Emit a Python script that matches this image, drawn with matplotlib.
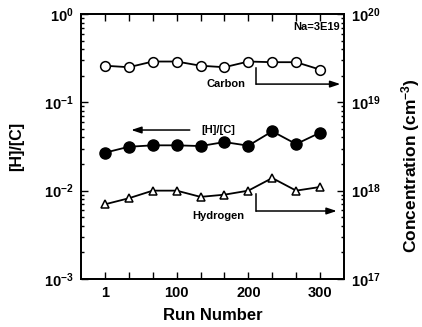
import matplotlib
matplotlib.use("Agg")
import matplotlib.pyplot as plt
import numpy as np
from matplotlib.ticker import LogLocator, NullFormatter, FixedLocator

plt.rcParams['font.family'] = ['Liberation Sans', 'DejaVu Sans']
plt.rcParams['font.weight'] = 'bold'
plt.rcParams['mathtext.fontset'] = 'custom'
plt.rcParams['mathtext.rm'] = 'Liberation Sans:bold'
plt.rcParams['mathtext.bf'] = 'Liberation Sans:bold'
plt.rcParams['mathtext.default'] = 'bf'

run_idx = np.arange(10)
x_tick_labels = ["1", "100", "200", "300"]
x_tick_pos = [0, 3, 6, 9]
ratio_HC = [0.0269, 0.0314, 0.0326, 0.0326, 0.0320, 0.0355, 0.0323, 0.0470, 0.0337, 0.0453]
carbon = [2.6e19, 2.5e19, 2.9e19, 2.9e19, 2.6e19, 2.5e19, 2.9e19, 2.85e19, 2.85e19, 2.35e19]
hydrogen = [7.0e17, 8.2e17, 1.0e18, 1.0e18, 8.5e17, 9.0e17, 1.0e18, 1.39e18, 1.0e18, 1.1e18]

fig = plt.figure(figsize=(4.22, 3.27), dpi=100)
ax = fig.add_axes([0.192, 0.147, 0.623, 0.81])
ax2 = ax.twinx()

ax.set_yscale('log')
ax.set_ylim(1e-3, 1)
ax.set_xlim(-1, 10)
ax2.set_yscale('log')
ax2.set_ylim(1e17, 1e20)

lw = 1.3
ax2.plot(run_idx, carbon, '-o', color='black', mfc='white', mec='black', ms=7, mew=1.1, lw=lw, zorder=3)
ax2.plot(run_idx, hydrogen, '-^', color='black', mfc='white', mec='black', ms=6, mew=1.1, lw=lw, zorder=3)
ax.plot(run_idx, ratio_HC, '-o', color='black', mfc='black', ms=8, lw=lw, zorder=3)

ax.set_xticks(run_idx)
ax.set_xticklabels([x_tick_labels[x_tick_pos.index(i)] if i in x_tick_pos else "" for i in run_idx])

def decade_labels(a, exps):
    a.yaxis.set_major_locator(FixedLocator([10.0**e for e in exps]))
    a.set_yticklabels([r'$10^{%d}$' % e for e in exps])
    a.yaxis.set_minor_locator(LogLocator(base=10, subs=np.arange(2, 10), numticks=20))
    a.yaxis.set_minor_formatter(NullFormatter())

decade_labels(ax, [-3, -2, -1, 0])
decade_labels(ax2, [17, 18, 19, 20])

for a in (ax, ax2):
    a.tick_params(which='both', direction='in', labelsize=10.5, width=1.0)
    a.tick_params(which='major', length=5)
    a.tick_params(which='minor', length=2.5)
    for s in a.spines.values():
        s.set_linewidth(1.3)
ax.tick_params(axis='x', top=True, pad=5)
ax.tick_params(axis='y', pad=5)
ax2.tick_params(axis='y', pad=5)

ax.set_xlabel('Run Number', fontsize=12, fontweight='bold', labelpad=6)
ax.set_ylabel('[H]/[C]', fontsize=11.5, fontweight='bold')
ax.yaxis.set_label_coords(-0.215, 0.5)
ax2.set_ylabel(r'Concentration (cm$^{-3}$)', fontsize=12.5, fontweight='bold')
ax2.yaxis.set_label_coords(1.21, 0.43)

tfs = 8
ax.text(0.985, 0.951, 'Na=3E19', transform=ax.transAxes, ha='right', va='center', fontsize=8, fontweight='bold')

# Carbon arrow
ax.plot([6.33, 6.33], [0.245, 0.161], color='black', lw=1.1)
ax.annotate('', xy=(9.85, 0.161), xytext=(6.33, 0.161),
            arrowprops=dict(arrowstyle='-|>,head_length=0.6,head_width=0.2', color='black', lw=1.1, shrinkA=0, shrinkB=0))
ax.text(5.05, 0.161, 'Carbon', ha='center', va='center', fontsize=tfs, fontweight='bold')

# [H]/[C] arrow
ax.annotate('', xy=(1.1, 0.0486), xytext=(3.55, 0.0486),
            arrowprops=dict(arrowstyle='-|>,head_length=0.6,head_width=0.2', color='black', lw=1.1, shrinkA=0, shrinkB=0))
ax.text(4.75, 0.0486, '[H]/[C]', ha='center', va='center', fontsize=tfs, fontweight='bold')

# Hydrogen arrow
ax.plot([6.33, 6.33], [0.00916, 0.00588], color='black', lw=1.1)
ax.annotate('', xy=(9.7, 0.00588), xytext=(6.33, 0.00588),
            arrowprops=dict(arrowstyle='-|>,head_length=0.6,head_width=0.2', color='black', lw=1.1, shrinkA=0, shrinkB=0))
ax.text(4.75, 0.00515, 'Hydrogen', ha='center', va='center', fontsize=tfs, fontweight='bold')

fig.savefig('out.png', dpi=100)
